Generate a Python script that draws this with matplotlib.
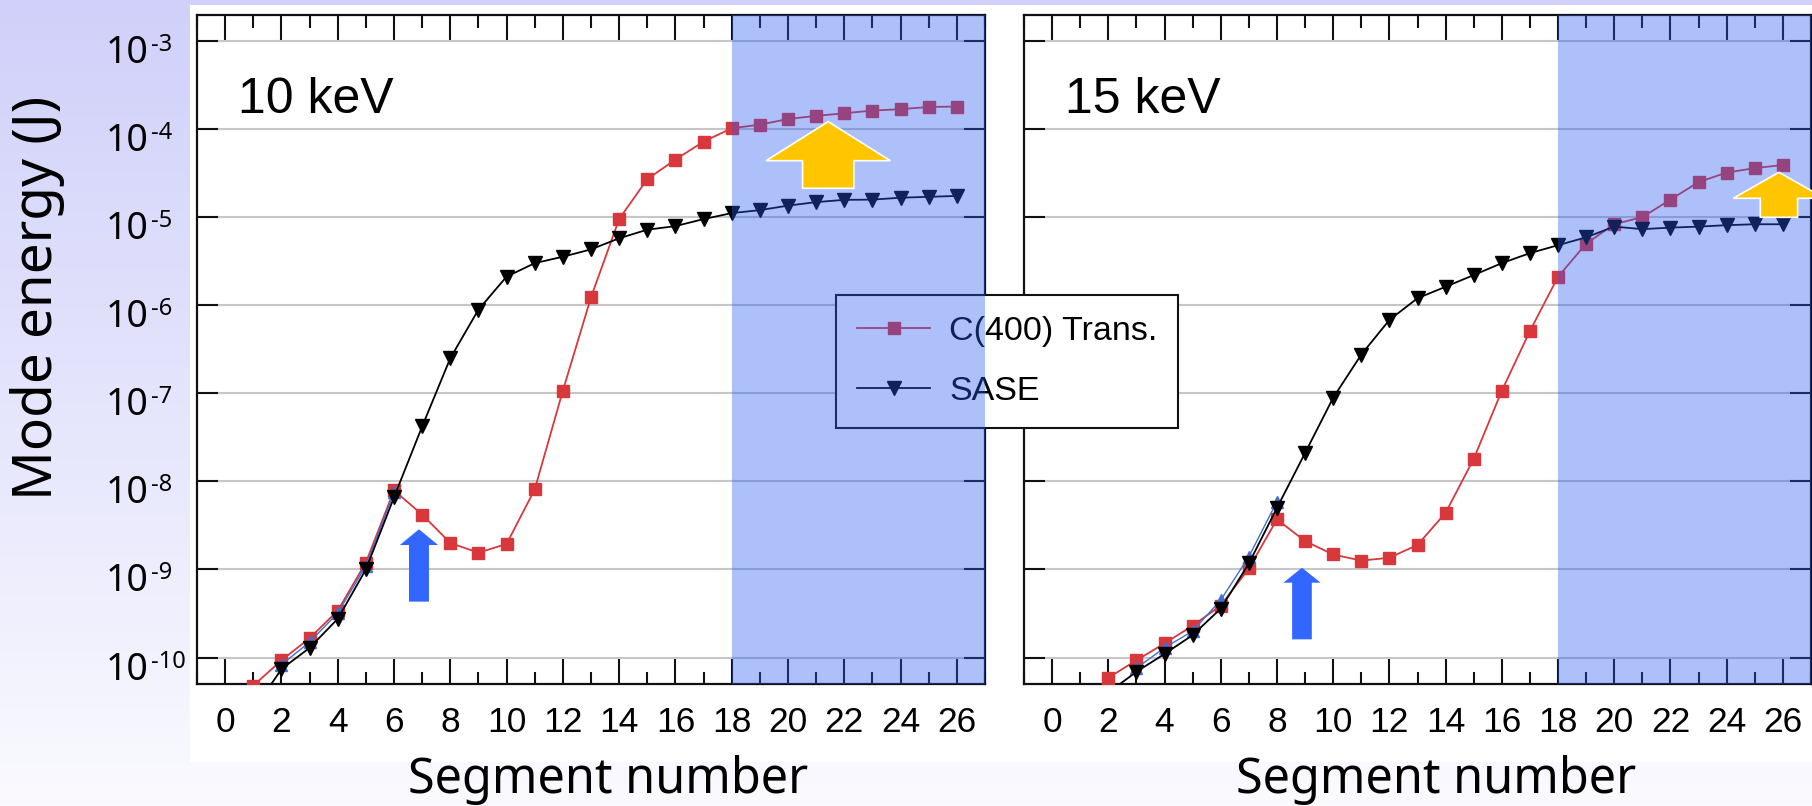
import numpy as np
import matplotlib
matplotlib.use('Agg')
import matplotlib.pyplot as plt
import matplotlib.transforms as mtransforms
from matplotlib.patches import Rectangle, Polygon
from matplotlib.lines import Line2D
from matplotlib.ticker import MultipleLocator, FixedLocator, NullLocator, NullFormatter

plt.rcParams['font.family'] = ['Liberation Sans', 'DejaVu Sans']

# segment index and mode energies (J)
segments = np.arange(1, 27)

c400_10kev = [4.8e-11, 9.3e-11, 1.66e-10, 3.4e-10, 1.2e-9, 7.9e-9, 4.2e-9, 2.0e-9, 1.55e-9,
              1.95e-9, 8.1e-9, 1.07e-7, 1.23e-6, 9.5e-6, 2.7e-5, 4.5e-5, 7.2e-5, 1.02e-4,
              1.12e-4, 1.30e-4, 1.41e-4, 1.51e-4, 1.62e-4, 1.68e-4, 1.78e-4, 1.80e-4]
sase_10kev = [2.5e-11, 7.4e-11, 1.29e-10, 2.75e-10, 1.0e-9, 6.6e-9, 4.2e-8, 2.5e-7, 8.9e-7,
              2.11e-6, 3.0e-6, 3.55e-6, 4.3e-6, 5.75e-6, 7.2e-6, 7.9e-6, 9.5e-6, 1.11e-5,
              1.2e-5, 1.35e-5, 1.48e-5, 1.57e-5, 1.58e-5, 1.66e-5, 1.70e-5, 1.74e-5]
c400_15kev = [2.8e-11, 5.9e-11, 9.3e-11, 1.45e-10, 2.3e-10, 3.9e-10, 1.03e-9, 3.7e-9, 2.1e-9,
              1.48e-9, 1.26e-9, 1.36e-9, 1.9e-9, 4.4e-9, 1.8e-8, 1.07e-7, 5.1e-7, 2.1e-6,
              5.0e-6, 8.3e-6, 1.0e-5, 1.58e-5, 2.5e-5, 3.2e-5, 3.6e-5, 3.9e-5]
sase_15kev = [1.6e-11, 4.0e-11, 6.9e-11, 1.1e-10, 1.8e-10, 3.6e-10, 1.17e-9, 5.0e-9, 2.1e-8,
              8.9e-8, 2.75e-7, 6.8e-7, 1.2e-6, 1.62e-6, 2.2e-6, 3.0e-6, 3.9e-6, 4.8e-6,
              5.9e-6, 7.8e-6, 7.3e-6, 7.6e-6, 7.8e-6, 8.1e-6, 8.3e-6, 8.3e-6]

# third series mostly hidden under the SASE markers
hidden_seg_10kev = [2, 3, 4, 5, 6]
hidden_10kev = [8.3e-11, 1.5e-10, 3.2e-10, 1.1e-9, 7.5e-9]
hidden_seg_15kev = [3, 4, 5, 6, 7, 8]
hidden_15kev = [7.6e-11, 1.29e-10, 2.0e-10, 4.5e-10, 1.4e-9, 5.9e-9]

panel_titles = ['10 keV', '15 keV']
legend_labels = ['C(400) Trans.', 'SASE']
decade_exps = [-10, -9, -8, -7, -6, -5, -4, -3]
shade_start = 18
shade_end = 27

W, H = 1812, 806
fig = plt.figure(figsize=(W / 100, H / 100), dpi=100)

# slide background: lavender gradient with a white panel
bg = fig.add_axes([0, 0, 1, 1], zorder=-1)
grad = np.linspace(0, 1, 256)[:, None]
top_c = np.array([208, 208, 250]) / 255
bot_c = np.array([250, 250, 255]) / 255
img = top_c[None, None, :] * (1 - grad[:, :, None]) + bot_c[None, None, :] * grad[:, :, None]
bg.imshow(img, aspect='auto', extent=[0, 1, 0, 1], origin='upper')
bg.add_patch(Rectangle((190 / W, 1 - 762 / H), 1, (762 - 5) / H, fc='white', ec='none'))
bg.set_xlim(0, 1)
bg.set_ylim(0, 1)
bg.axis('off')

ax1 = fig.add_axes([197 / W, 1 - 684 / H, 788 / W, 669.5 / H])
ax2 = fig.add_axes([1024 / W, 1 - 684 / H, 787 / W, 669.5 / H])

red = '#d8383c'
panels = [(ax1, c400_10kev, sase_10kev, hidden_seg_10kev, hidden_10kev),
          (ax2, c400_15kev, sase_15kev, hidden_seg_15kev, hidden_15kev)]

for (ax, c400, sase, hseg, hval), title in zip(panels, panel_titles):
    ax.plot(segments, c400, '-s', color=red, lw=1.3, ms=8.5, mec=red, zorder=3)
    ax.plot(hseg, hval, '-^', color='#3f6fd6', lw=1.0, ms=9, zorder=4)
    ax.plot(segments, sase, '-v', color='black', lw=1.3, ms=9.5, zorder=5)
    ax.set_yscale('log')
    ax.set_ylim(10 ** -10.3, 10 ** -2.7)
    ax.set_xlim(-1, 27)
    ax.yaxis.set_major_locator(FixedLocator([10.0 ** e for e in decade_exps]))
    ax.yaxis.set_minor_locator(NullLocator())
    ax.yaxis.set_major_formatter(NullFormatter())
    ax.xaxis.set_major_locator(MultipleLocator(2))
    ax.xaxis.set_minor_locator(MultipleLocator(1))
    ax.grid(axis='y', which='major', color='#c6c6c6', lw=1.5)
    ax.set_axisbelow(True)
    ax.tick_params(which='both', direction='in', top=True, right=True, width=1.5, color='#111111')
    ax.tick_params(axis='x', which='major', length=18, labelsize=25.5, pad=16)
    ax.tick_params(axis='x', which='minor', length=9)
    ax.tick_params(axis='y', which='major', length=15)
    for s in ax.spines.values():
        s.set_linewidth(1.6)
        s.set_color('#111111')
    ax.text(0.052, 0.853, title, transform=ax.transAxes, fontsize=36, va='baseline', ha='left')

    # highlighted region, drawn above the legend like the original overlay
    tr = mtransforms.blended_transform_factory(ax.transData, ax.transAxes)
    fig.add_artist(Rectangle((shade_start, 0), shade_end - shade_start, 1, transform=tr,
                             fc='#2a5af0', alpha=0.38, lw=0, zorder=6))

# y tick labels written as "10" plus a raised exponent, left aligned like the slide
ytr = mtransforms.blended_transform_factory(ax1.transAxes, ax1.transData)
base_off = mtransforms.ScaledTranslation(0, -0.22, fig.dpi_scale_trans)
exp_off = mtransforms.ScaledTranslation(0, -0.10, fig.dpi_scale_trans)
for e in decade_exps:
    ax1.text(-0.1155, 10.0 ** e, '10', transform=ytr + base_off, fontsize=27,
             family='Noto Sans', ha='left', va='baseline', clip_on=False)
    ax1.text(-0.0590, 10.0 ** e, '-%d' % -e, transform=ytr + exp_off, fontsize=17,
             family='Noto Sans', ha='left', va='baseline', clip_on=False)

handles = [Line2D([], [], color=red, marker='s', ms=8.5, lw=1.3),
           Line2D([], [], color='black', marker='v', ms=9.5, lw=1.3)]
leg = fig.legend(handles, legend_labels, loc='upper left', bbox_to_anchor=(836 / W, 1 - 295 / H),
                 borderaxespad=0, fontsize=24.5, handlelength=2.15, handletextpad=0.55,
                 borderpad=0.62, labelspacing=0.84, fancybox=False, framealpha=1,
                 edgecolor='#111111')
leg.get_frame().set_linewidth(1.5)
leg.set_zorder(5)


def up_arrow(ax, x, tip, head_w, head_len, shaft_w, length, color, edge):
    verts = [(x, tip), (x - head_w / 2, tip - head_len), (x - shaft_w / 2, tip - head_len),
             (x - shaft_w / 2, tip - length), (x + shaft_w / 2, tip - length),
             (x + shaft_w / 2, tip - head_len), (x + head_w / 2, tip - head_len)]
    fig.add_artist(Polygon(verts, closed=True, transform=ax.transAxes, fc=color,
                           ec=edge, lw=1.2, zorder=7))


up_arrow(ax1, 0.801, 0.840, 0.1577, 0.0584, 0.0651, 0.0996, '#ffc600', 'white')
up_arrow(ax2, 0.9593, 0.7643, 0.1161, 0.0388, 0.0474, 0.0672, '#ffc600', 'white')
up_arrow(ax1, 0.2817, 0.2311, 0.0485, 0.0235, 0.0253, 0.1081, '#3366ff', 'none')
up_arrow(ax2, 0.3532, 0.1737, 0.0473, 0.0224, 0.0250, 0.1070, '#3366ff', 'none')

fig.text(608 / W, 13 / H, 'Segment number', ha='center', va='baseline', fontsize=35, family='Noto Sans')
fig.text(1436 / W, 13 / H, 'Segment number', ha='center', va='baseline', fontsize=35, family='Noto Sans')
fig.text(38 / W, 1 - 297.5 / H, 'Mode energy (J)', rotation=90, ha='center', va='center',
         fontsize=39.5, family='Noto Sans')

fig.savefig('out.png', dpi=100)
